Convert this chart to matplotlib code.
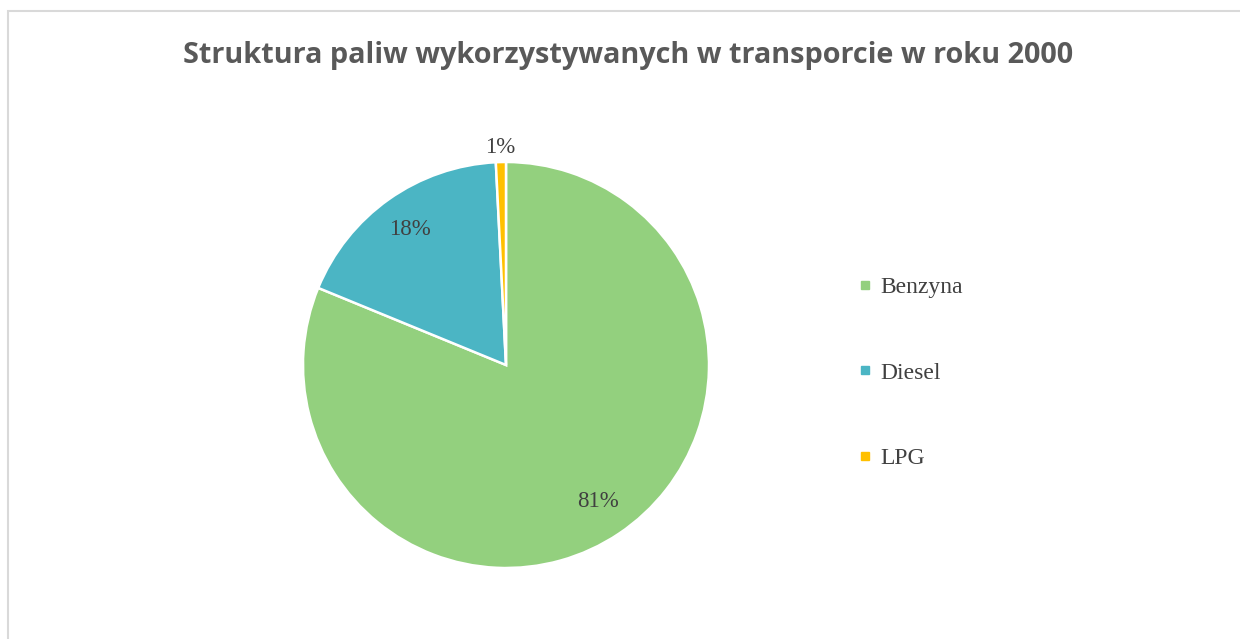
import numpy as np
import matplotlib
matplotlib.use('Agg')
import matplotlib.pyplot as plt
from matplotlib.lines import Line2D
from matplotlib.patches import Rectangle

# Dane: struktura paliw w transporcie, rok 2000 (%)
kategorie = ['Benzyna', 'Diesel', 'LPG']
udzialy   = [81.2, 18.0, 0.8]
etykiety  = ['81%', '18%', '1%']
kolory    = ['#93D07E', '#4BB5C4', '#FFC000']

W, H, DPI = 1240, 639, 100
fig = plt.figure(figsize=(W / DPI, H / DPI), dpi=DPI)
fig.patch.set_facecolor('white')

# ramka wykresu (jasnoszara)
fig.patches.append(Rectangle((8 / W, -0.05), 1.2, (H - 11) / H + 0.05,
                             transform=fig.transFigure, fill=False,
                             edgecolor='#D9D9D9', lw=1.5))

ax = fig.add_axes([0, 0, 1, 1])

R = 203
cx, cy = 506, H - 365
wedges, _ = ax.pie(udzialy, colors=kolory, startangle=90, counterclock=False,
                   radius=R, center=(cx, cy), frame=True,
                   wedgeprops=dict(edgecolor='white', linewidth=1.8))
ax.set_xlim(0, W)
ax.set_ylim(0, H)
ax.set_aspect('equal')
ax.axis('off')

# etykiety procentowe
odleglosci = [0.81, 0.82, 1.07]
for w, txt, d in zip(wedges, etykiety, odleglosci):
    th = np.deg2rad((w.theta1 + w.theta2) / 2)
    ax.text(cx + d * R * np.cos(th), cy + d * R * np.sin(th), txt,
            ha='center', va='center', fontsize=16.5, color='#404040',
            family='Liberation Serif')

fig.text(628 / W, 1 - 56 / H, 'Struktura paliw wykorzystywanych w transporcie w roku 2000',
         ha='center', va='center', fontsize=20.8, fontweight='bold',
         color='#595959', family='Open Sans')

uchwyty = [Line2D([], [], ls='none', marker='s', markersize=5.5,
                  markerfacecolor=k, markeredgecolor=k) for k in kolory]
leg = fig.legend(uchwyty, kategorie, loc='center left',
                 bbox_to_anchor=(838 / W, 1 - 373 / H), frameon=False,
                 prop={'family': 'Liberation Serif', 'size': 17},
                 labelspacing=2.7, handlelength=0.5, handletextpad=0.4)
for t in leg.get_texts():
    t.set_color('#404040')

plt.savefig('out.png', dpi=DPI)
